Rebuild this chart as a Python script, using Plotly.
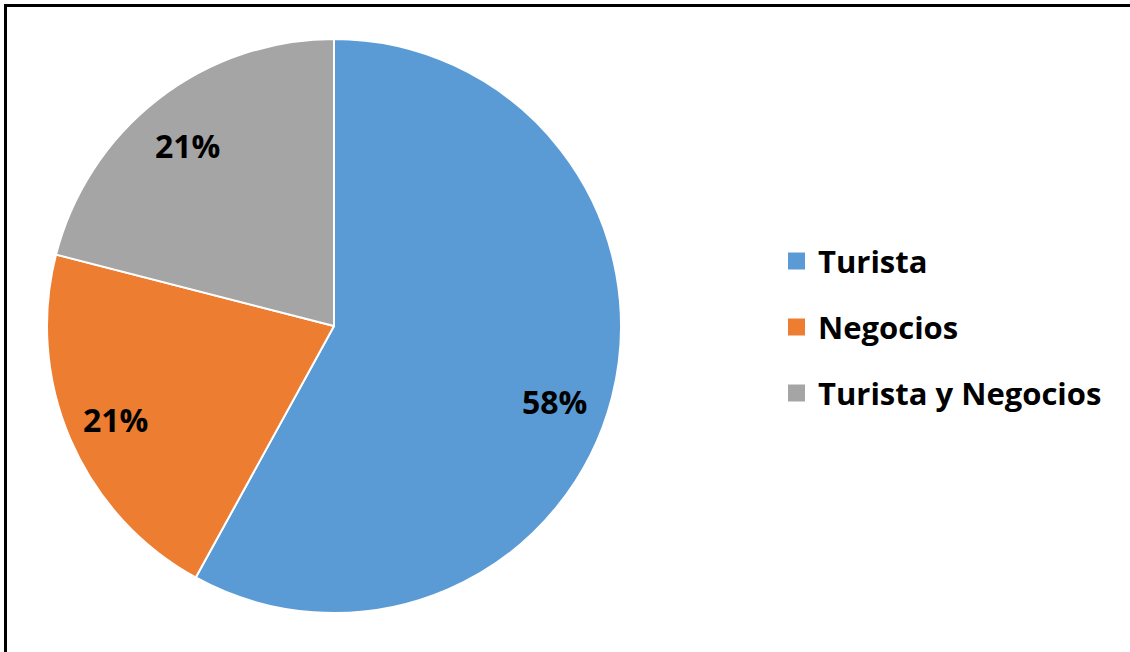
import math
import plotly.graph_objects as go

categories = ["Turista", "Negocios", "Turista y Negocios"]
shares = [58, 21, 21]
slice_colors = ["#5B9BD5", "#ED7D31", "#A5A5A5"]

W, H = 1130, 652
cx, cy, r = 334, 326, 287          # pie centre and radius in pixels
label_radius = 0.815               # data labels sit at this fraction of r
label_nudge = [(-6, 17), (-4, 1), (-3, 4)]  # small pixel nudges per label
FONT = "Open Sans"


def px(x):
    return x / W


def py(y):
    return 1 - y / H


fig = go.Figure(
    go.Pie(
        labels=categories,
        values=shares,
        sort=False,
        direction="clockwise",
        rotation=0,
        marker=dict(colors=slice_colors, line=dict(color="white", width=2)),
        textinfo="none",
        domain=dict(x=[px(cx - r), px(cx + r)], y=[py(cy + r), py(cy - r)]),
        hoverinfo="label+percent",
        showlegend=False,
    )
)

annotations = []
total = sum(shares)
start = 0.0
for i, v in enumerate(shares):
    frac = v / total
    mid = (start + frac / 2) * 2 * math.pi  # clockwise from 12 o'clock
    start += frac
    lx = cx + label_radius * r * math.sin(mid) + label_nudge[i][0]
    ly = cy - label_radius * r * math.cos(mid) + label_nudge[i][1]
    annotations.append(
        dict(
            x=px(lx), y=py(ly), xref="paper", yref="paper",
            text=f"{round(100 * frac)}%", showarrow=False,
            xanchor="center", yanchor="middle",
            font=dict(family=FONT, size=32, color="black", weight="bold"),
        )
    )

# legend: coloured squares followed by bold labels
shapes = []
legend_x, legend_y0, legend_step, box = 788, 261, 66, 17
for i, (name, col) in enumerate(zip(categories, slice_colors)):
    yc = legend_y0 + i * legend_step
    shapes.append(
        dict(
            type="rect", xref="paper", yref="paper",
            x0=px(legend_x), x1=px(legend_x + box),
            y0=py(yc + box / 2), y1=py(yc - box / 2),
            fillcolor=col, line=dict(width=0),
        )
    )
    annotations.append(
        dict(
            x=px(legend_x + box + 11), y=py(yc), xref="paper", yref="paper",
            text=name, showarrow=False, xanchor="left", yanchor="middle",
            font=dict(family=FONT, size=31, color="black", weight="bold"),
        )
    )

# chart frame
shapes.append(
    dict(
        type="rect", xref="paper", yref="paper",
        x0=px(5.5), y0=-0.05, x1=1.05, y1=py(5.5),
        line=dict(color="black", width=3), fillcolor="rgba(0,0,0,0)",
    )
)

fig.update_layout(
    width=W,
    height=H,
    margin=dict(l=0, r=0, t=0, b=0),
    paper_bgcolor="white",
    plot_bgcolor="white",
    showlegend=False,
    annotations=annotations,
    shapes=shapes,
)

fig.write_html("out.html")
